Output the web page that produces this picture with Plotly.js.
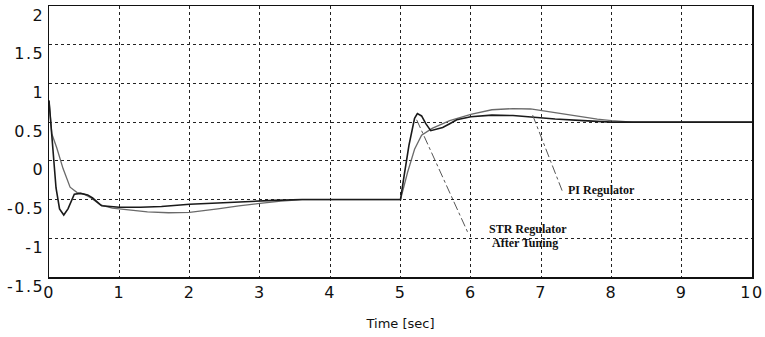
<!DOCTYPE html>
<html>
<head>
<meta charset="utf-8">
<script src="https://cdn.plot.ly/plotly-3.0.1.min.js"></script>
<style>
html,body{margin:0;padding:0;background:#fff;}
#chart{width:765px;height:337px;}
#chart .xtick text, #chart .ytick text{letter-spacing:1.5px;}
</style>
</head>
<body>
<div id="chart"></div>
<script>
// STR regulator after tuning (fast response, dark)
const strTime  = [0, 0.05, 0.1, 0.15, 0.21, 0.27, 0.32, 0.36, 0.45, 0.55, 0.62, 0.75, 1.0, 1.3, 1.6, 2.0, 2.4, 2.7, 3.2, 3.6, 4.0, 5.0, 5.05, 5.12, 5.2, 5.24, 5.3, 5.36, 5.43, 5.52, 5.6, 5.7, 5.8, 6.0, 6.3, 6.6, 6.9, 7.2, 7.6, 8.0, 8.5, 10];
const strValue = [0.78, 0.2, -0.35, -0.62, -0.7, -0.62, -0.5, -0.43, -0.42, -0.44, -0.48, -0.58, -0.6, -0.6, -0.59, -0.56, -0.545, -0.53, -0.51, -0.5, -0.5, -0.5, -0.2, 0.2, 0.55, 0.61, 0.58, 0.48, 0.39, 0.41, 0.43, 0.48, 0.53, 0.57, 0.59, 0.585, 0.56, 0.54, 0.52, 0.5, 0.5, 0.5];
// PI regulator (slower response, grey)
const piTime  = [0, 0.04, 0.11, 0.2, 0.3, 0.4, 0.5, 0.6, 0.73, 0.9, 1.1, 1.4, 1.7, 2.0, 2.4, 2.7, 3.0, 3.3, 3.6, 4.0, 5.0, 5.1, 5.2, 5.3, 5.45, 5.7, 6.0, 6.3, 6.6, 6.85, 7.0, 7.4, 7.8, 8.0, 8.3, 10];
const piValue = [0.78, 0.35, 0.17, -0.1, -0.34, -0.41, -0.43, -0.48, -0.57, -0.61, -0.63, -0.66, -0.67, -0.665, -0.62, -0.58, -0.55, -0.52, -0.5, -0.5, -0.5, -0.15, 0.15, 0.33, 0.42, 0.52, 0.6, 0.66, 0.675, 0.67, 0.65, 0.59, 0.54, 0.52, 0.5, 0.5];

const xTicks = [0, 1, 2, 3, 4, 5, 6, 7, 8, 9, 10];
const yTicks = [-1.5, -1, -0.5, 0, 0.5, 1, 1.5, 2];
const yTickText = ['-1.5', '-1', '-0.5', '0', '0.5', '1', '1.5', '2'];
const xTitle = 'Time [sec]';
const labelPI = 'PI Regulator';
const labelSTR1 = 'STR Regulator';
const labelSTR2 = 'After Tuning';

const traces = [
  {x: piTime, y: piValue, mode: 'lines', line: {color: '#6a6a6a', width: 1.3}, hoverinfo: 'skip'},
  {x: strTime, y: strValue, mode: 'lines', line: {color: '#1a1a1a', width: 1.6}, hoverinfo: 'skip'}
];

const noteFont = {family: 'Liberation Serif, Times New Roman, serif', size: 12, color: '#111', weight: 'bold'};

const layout = {
  width: 765, height: 337,
  margin: {l: 49, r: 13, t: 6, b: 60},
  paper_bgcolor: '#fff', plot_bgcolor: '#fff',
  showlegend: false,
  font: {family: 'DejaVu Sans, sans-serif', color: '#111'},
  xaxis: {
    range: [0, 10], tickvals: xTicks, ticks: '', showgrid: true,
    gridcolor: '#222', griddash: 'dot', gridwidth: 1,
    showline: true, linecolor: '#111', linewidth: 1.5, mirror: true, zeroline: false,
    tickfont: {family: 'DejaVu Sans, sans-serif', size: 16, color: '#111'},
    title: {text: xTitle, font: {family: 'DejaVu Sans, sans-serif', size: 13, color: '#111'}, standoff: 18}
  },
  yaxis: {
    range: [-1.5, 2], tickvals: yTicks, ticktext: yTickText, ticks: '', showgrid: true,
    gridcolor: '#222', griddash: 'dot', gridwidth: 1,
    showline: true, linecolor: '#111', linewidth: 1.5, mirror: true, zeroline: false,
    ticklabelshift: 9, ticklabelstandoff: 0,
    tickfont: {family: 'DejaVu Sans, sans-serif', size: 16, color: '#111'}
  },
  shapes: [
    {type: 'line', xref: 'x', yref: 'y', x0: 5.23, y0: 0.53, x1: 5.96, y1: -0.93, line: {color: '#555', width: 1, dash: 'dashdot'}},
    {type: 'line', xref: 'x', yref: 'y', x0: 6.88, y0: 0.59, x1: 7.31, y1: -0.41, line: {color: '#555', width: 1, dash: 'dashdot'}}
  ],
  annotations: [
    {x: 7.35, y: -0.376, xref: 'x', yref: 'y', text: labelPI, showarrow: false, xanchor: 'left', yanchor: 'middle', font: noteFont},
    {x: 6.23, y: -0.88, xref: 'x', yref: 'y', text: labelSTR1, showarrow: false, xanchor: 'left', yanchor: 'middle', font: noteFont},
    {x: 6.27, y: -1.06, xref: 'x', yref: 'y', text: labelSTR2, showarrow: false, xanchor: 'left', yanchor: 'middle', font: noteFont}
  ]
};

Plotly.newPlot('chart', traces, layout, {displayModeBar: false, staticPlot: true});
</script>
</body>
</html>
